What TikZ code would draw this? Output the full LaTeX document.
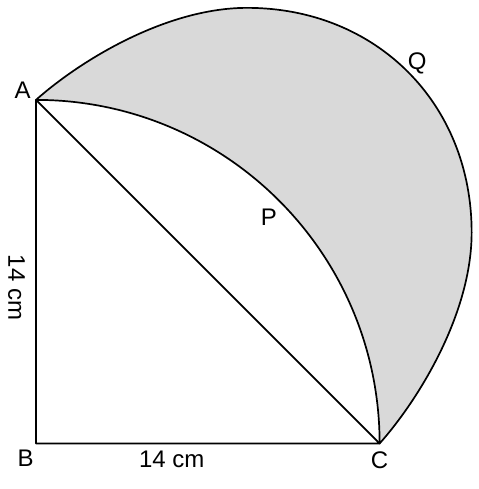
\documentclass[tikz,border=0pt]{standalone}
\usepackage{fontspec}
\setmainfont{Liberation Sans}
\definecolor{shade}{RGB}{217,217,217}
\begin{document}
\begin{tikzpicture}[line join=round,line cap=round,x=24.54pt,y=24.54pt,line width=1.7pt,font=\fontsize{24}{28}\selectfont]
\useasboundingbox (-1.467,-1.854) rectangle (18.01,18.07);
\coordinate (B) at (0,0);
\coordinate (A) at (0,14);
\coordinate (C) at (14,0);
\filldraw[fill=shade] (A)..controls (1.8,15.6) and (5.3,17.75)..(8.6,17.75)
..controls (13.86,17.75) and (17.75,13.86)..(17.75,8.6)
..controls (17.75,5.3) and (15.6,1.8)..(C) arc[start angle=0,end angle=90,radius=14]--cycle;
\draw (A)--(B)--(C)--cycle;
\node (labA) at (-0.54,14.39) {A};
\node (labB) at (-0.42,-0.6) {B};
\node (labC) at (14,-0.69) {C};
\node (labP) at (9.49,9.21) {P};
\node (labQ) at (15.53,15.5) {Q};
\node (sideBC) at (5.53,-0.63) {14 cm};
\node[rotate=-90] (sideAB) at (-0.79,6.35) {14 cm};
\end{tikzpicture}
\end{document}
